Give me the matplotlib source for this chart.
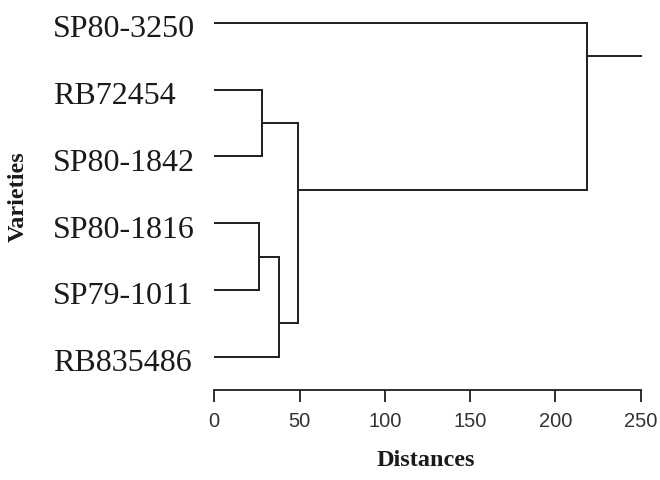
import matplotlib
matplotlib.use("Agg")
import matplotlib.pyplot as plt
import matplotlib.transforms as mtransforms

# varieties, top to bottom
varieties = ['SP80-3250', 'RB72454', 'SP80-1842', 'SP80-1816', 'SP79-1011', 'RB835486']

# merges: (top child, bottom child, distance); new node ids start after the leaves
merge_a = [1, 3, 7, 6, 0]
merge_b = [2, 4, 5, 8, 9]
merge_dist = [28, 26, 38, 49, 218.5]
root_end = 250

line_col = '#1e1e1e'
serif = ['Liberation Serif', 'DejaVu Serif']

fig = plt.figure(figsize=(6.6, 4.8), dpi=100)
ax = fig.add_axes([0.3247, 0.1875, 0.6461, 0.8125])

n = len(varieties)
node_x = {i: 0.0 for i in range(n)}
node_y = {i: float(i) for i in range(n)}
node_last = {i: i for i in range(n)}

for k, (a, b, d) in enumerate(zip(merge_a, merge_b, merge_dist)):
    for c in (a, b):
        ax.plot([node_x[c], d], [node_y[c], node_y[c]], color=line_col, lw=1.4,
                solid_capstyle='butt', clip_on=False)
    ax.plot([d, d], [node_y[a], node_y[b]], color=line_col, lw=1.4,
            solid_capstyle='projecting', clip_on=False)
    new = n + k
    node_x[new] = d
    node_last[new] = node_last[b]
    # the joining line comes out at the border between the two sub-clusters
    node_y[new] = node_last[a] + 0.5

root = n + len(merge_dist) - 1
ax.plot([node_x[root], root_end], [node_y[root], node_y[root]], color=line_col, lw=1.4,
        clip_on=False)

ax.set_xlim(0, 250)
ax.set_ylim(5.4985, -0.34)
ax.set_xticks([0, 50, 100, 150, 200, 250])
ax.set_yticks(range(n))
ax.set_yticklabels(varieties, fontsize=23, family=serif, color='#1a1a1a', ha='left')
ax.tick_params(axis='y', length=0, pad=116)
# labels sit a touch below their branch in the original
shift = mtransforms.ScaledTranslation(0, -2.5 / 72, fig.dpi_scale_trans)
for lab in ax.get_yticklabels():
    lab.set_transform(lab.get_transform() + shift)
ax.tick_params(axis='x', length=8.6, width=1.3, color=line_col, pad=7,
               labelsize=14.5, labelcolor='#333333')
for lab in ax.get_xticklabels():
    lab.set_family(['Liberation Sans', 'DejaVu Sans'])

for s in ['top', 'right', 'left']:
    ax.spines[s].set_visible(False)
ax.spines['bottom'].set_linewidth(1.3)
ax.spines['bottom'].set_color(line_col)

ax.set_xlabel('Distances', fontsize=17.5, fontweight='bold', family=serif,
              color='#1a1a1a', va='center')
ax.xaxis.set_label_coords(0.495, -0.1795)
ax.set_ylabel('Varieties', fontsize=17.5, fontweight='bold', family=serif,
              color='#1a1a1a', va='center')
ax.yaxis.set_label_coords(-0.4604, 0.497)

fig.savefig('out.png', dpi=100)
